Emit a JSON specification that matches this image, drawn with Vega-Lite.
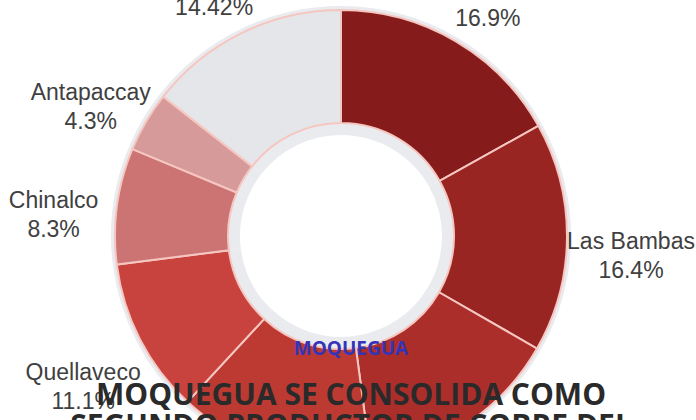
{
  "$schema": "https://vega.github.io/schema/vega-lite/v6.json",
  "width": 682,
  "height": 472,
  "autosize": {"type": "none"},
  "padding": {"left": 0, "top": 0, "right": 14, "bottom": 0},
  "background": "white",
  "config": {"view": {"stroke": null}, "font": "Liberation Sans"},
  "title": {
    "text": "MOQUEGUA",
    "subtitle": ["MOQUEGUA SE CONSOLIDA COMO", "SEGUNDO PRODUCTOR DE COBRE DEL"],
    "orient": "bottom",
    "anchor": "middle",
    "frame": "group",
    "offset": -217,
    "dx": 10,
    "font": "Open Sans",
    "fontSize": 19,
    "fontWeight": "bold",
    "color": "#3434b8",
    "subtitleFont": "Open Sans",
    "subtitleFontSize": 30,
    "subtitleFontWeight": "bold",
    "subtitleColor": "#2a2a2a",
    "subtitlePadding": 22,
    "subtitleLineHeight": 31
  },
  "data": {
    "values": [
      {"orden": 1, "empresa": "Antamina", "share": 0.169},
      {"orden": 2, "empresa": "Las Bambas", "share": 0.164},
      {"orden": 3, "empresa": "Cerro Verde", "share": 0.146},
      {"orden": 4, "empresa": "Southern Perú", "share": 0.14},
      {"orden": 5, "empresa": "Quellaveco", "share": 0.111},
      {"orden": 6, "empresa": "Chinalco", "share": 0.083},
      {"orden": 7, "empresa": "Antapaccay", "share": 0.043},
      {"orden": 8, "empresa": "Otros", "share": 0.1442}
    ]
  },
  "encoding": {
    "theta": {"field": "share", "type": "quantitative", "stack": true},
    "order": {"field": "orden", "type": "quantitative"}
  },
  "layer": [
    {
      "mark": {"type": "arc", "innerRadius": 101, "outerRadius": 230, "color": "#e9ebef"}
    },
    {
      "mark": {"type": "arc", "innerRadius": 113, "outerRadius": 226, "stroke": "#f6c6c0", "strokeWidth": 2},
      "encoding": {
        "color": {
          "field": "empresa",
          "type": "nominal",
          "legend": null,
          "scale": {
            "domain": ["Antamina", "Las Bambas", "Cerro Verde", "Southern Perú", "Quellaveco", "Chinalco", "Antapaccay", "Otros"],
            "range": ["#851b1a", "#982522", "#ac2e2a", "#bd3a33", "#c8433e", "#cc7373", "#d79a9a", "#e4e6e9"]
          }
        }
      }
    },
    {
      "mark": {"type": "text", "radius": 290, "fontSize": 23, "color": "#404040", "dy": 4},
      "encoding": {"text": {"field": "empresa", "type": "nominal"}}
    },
    {
      "mark": {"type": "text", "radius": 290, "fontSize": 23, "color": "#404040", "dy": 33},
      "encoding": {"text": {"field": "share", "type": "quantitative", "format": ".2~%"}}
    }
  ]
}
